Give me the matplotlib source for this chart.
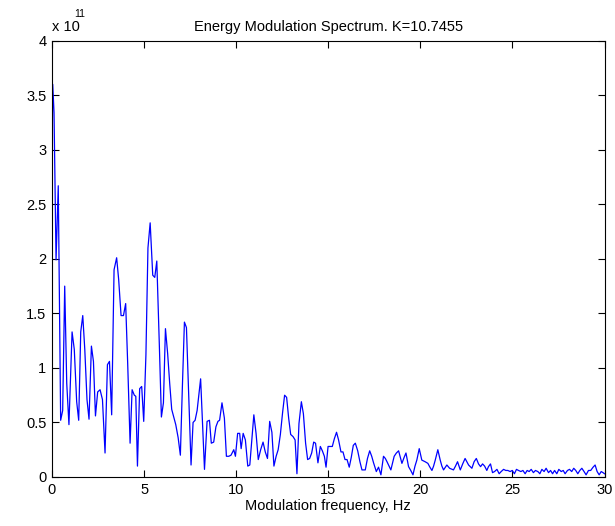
import matplotlib
matplotlib.use("Agg")
import matplotlib.pyplot as plt

# traced spectrum vertices (frequency in Hz, energy in units of 1e11)
freq_hz = [
    0.00, 0.04, 0.11, 0.22, 0.34, 0.47, 0.58, 0.69, 0.80, 0.92, 1.09, 1.21,
    1.34, 1.45, 1.56, 1.67, 1.78, 1.90, 2.01, 2.14, 2.25, 2.36, 2.48, 2.61,
    2.74, 2.88, 3.01, 3.12, 3.24, 3.37, 3.51, 3.62, 3.75, 3.88, 4.00, 4.11,
    4.24, 4.35, 4.47, 4.55, 4.64, 4.76, 4.87, 4.98,
    5.10, 5.21, 5.33, 5.47, 5.58, 5.69, 5.83, 5.94, 6.05, 6.16, 6.28, 6.39,
    6.50, 6.61, 6.72, 6.85, 6.97, 7.08, 7.19, 7.30, 7.42, 7.55, 7.66, 7.77,
    7.88, 7.97, 8.07,
    8.28, 8.42, 8.55, 8.65, 8.78, 8.90, 9.01, 9.10, 9.23, 9.36, 9.47, 9.60,
    9.72, 9.87, 9.96, 10.08, 10.19, 10.27, 10.38, 10.50, 10.63, 10.74, 10.85,
    10.96, 11.08, 11.20, 11.33, 11.46, 11.58, 11.70, 11.82, 11.94, 12.05,
    12.17, 12.28, 12.40,
    12.52, 12.63, 12.74, 12.85, 12.96, 13.09, 13.20, 13.30, 13.41, 13.54,
    13.65, 13.77, 13.88, 13.99, 14.10, 14.21, 14.31, 14.44, 14.57, 14.68,
    14.79, 14.88, 14.99, 15.11, 15.22, 15.33, 15.45, 15.56, 15.69, 15.80,
    15.91,
    16.02, 16.14, 16.25, 16.36, 16.47, 16.60, 16.72, 16.83, 17.01, 17.13,
    17.25, 17.36, 17.46, 17.61, 17.73, 17.86, 18.00, 18.10, 18.19, 18.40,
    18.58, 18.70, 18.82, 18.93, 19.00, 19.12, 19.22, 19.36, 19.48, 19.60,
    19.71, 19.81, 19.94, 20.08, 20.26, 20.41, 20.52, 20.63, 20.72, 20.81,
    20.95, 21.08, 21.17, 21.26, 21.44, 21.59, 21.80, 21.91, 22.02, 22.17,
    22.30, 22.43, 22.62, 22.80, 22.92, 23.04, 23.16, 23.27,
    23.38, 23.49, 23.61, 23.70, 23.81, 23.92, 24.03, 24.16, 24.28, 24.39,
    24.52, 24.64, 24.75, 24.88, 24.99, 25.11, 25.22, 25.33, 25.46, 25.57,
    25.69, 25.80, 25.91, 26.02, 26.14, 26.25, 26.38, 26.49, 26.60, 26.72,
    26.83, 26.96, 27.07, 27.18, 27.29, 27.41, 27.52, 27.65, 27.76, 27.86,
    27.99, 28.10, 28.22, 28.33, 28.44, 28.55, 28.66, 28.77, 28.89, 29.00,
    29.13, 29.25, 29.38, 29.49, 29.60, 29.71, 29.82, 29.92, 30.00,
]
energy_e11 = [
    2.90, 3.60, 3.34, 1.99, 2.67, 0.52, 0.61, 1.75, 0.86, 0.48, 1.33, 1.17,
    0.69, 0.52, 1.33, 1.48, 1.17, 0.71, 0.53, 1.20, 1.06, 0.56, 0.78, 0.80,
    0.71, 0.22, 1.03, 1.06, 0.57, 1.90, 2.01, 1.81, 1.48, 1.48, 1.59, 1.04,
    0.31, 0.80, 0.75, 0.74, 0.10, 0.81, 0.83, 0.51,
    1.12, 2.10, 2.33, 1.85, 1.83, 1.98, 1.20, 0.55, 0.68, 1.36, 1.13, 0.86,
    0.62, 0.55, 0.48, 0.36, 0.20, 0.83, 1.42, 1.37, 0.77, 0.11, 0.50, 0.52,
    0.61, 0.75, 0.90,
    0.07, 0.51, 0.52, 0.31, 0.32, 0.46, 0.51, 0.52, 0.68, 0.54, 0.19, 0.19,
    0.20, 0.25, 0.19, 0.40, 0.40, 0.26, 0.40, 0.34, 0.10, 0.11, 0.34,
    0.57, 0.40, 0.16, 0.25, 0.32, 0.23, 0.17, 0.51, 0.41, 0.10,
    0.19, 0.25, 0.39,
    0.59, 0.75, 0.73, 0.54, 0.39, 0.37, 0.34, 0.03, 0.49, 0.69,
    0.58, 0.31, 0.16, 0.17, 0.22, 0.32, 0.31, 0.13, 0.28, 0.24,
    0.19, 0.09, 0.28, 0.28, 0.28, 0.35, 0.41, 0.34, 0.23, 0.23,
    0.16,
    0.16, 0.09, 0.18, 0.29, 0.31, 0.24, 0.14, 0.065, 0.065, 0.17,
    0.24, 0.19, 0.13, 0.05, 0.09, 0.02, 0.19, 0.17, 0.14, 0.065,
    0.19, 0.22, 0.24, 0.17, 0.125, 0.18, 0.22, 0.095, 0.06, 0.02,
    0.10, 0.155, 0.26, 0.155, 0.14, 0.125, 0.09, 0.06, 0.10, 0.155,
    0.25, 0.155, 0.10, 0.065, 0.11, 0.08, 0.065, 0.10, 0.14, 0.065,
    0.12, 0.17, 0.11, 0.08, 0.14, 0.17, 0.12, 0.095,
    0.12, 0.10, 0.06, 0.095, 0.12, 0.04, 0.05, 0.07, 0.03, 0.05,
    0.07, 0.06, 0.06, 0.05, 0.06, 0.03, 0.07, 0.06, 0.05, 0.06,
    0.03, 0.06, 0.05, 0.07, 0.04, 0.06, 0.05, 0.03, 0.07, 0.05,
    0.08, 0.04, 0.06, 0.03, 0.06, 0.03, 0.07, 0.05, 0.06, 0.03,
    0.06, 0.07, 0.05, 0.08, 0.06, 0.03, 0.06, 0.08, 0.05, 0.02,
    0.06, 0.06, 0.09, 0.11, 0.05, 0.02, 0.05, 0.04, 0.03,
]

x_ticks = [0, 5, 10, 15, 20, 25, 30]
y_ticks = [0, 0.5, 1, 1.5, 2, 2.5, 3, 3.5, 4]
y_labels = ["0", "0.5", "1", "1.5", "2", "2.5", "3", "3.5", "4"]

plt.rcParams["font.family"] = ["Liberation Sans", "DejaVu Sans"]

W, H = 615, 526
fig = plt.figure(figsize=(W / 100, H / 100), dpi=100)
ax = fig.add_axes([52 / W, (H - 477) / H, (604.5 - 52) / W, (477 - 40.7) / H])

ax.plot(freq_hz, energy_e11, color="#0000ff", lw=0.9)

ax.set_xlim(0, 30)
ax.set_ylim(0, 4)
ax.set_xticks(x_ticks)
ax.set_yticks(y_ticks)
ax.set_yticklabels(y_labels)
ax.tick_params(direction="in", length=5, width=0.8, labelsize=10.5, pad=4,
               top=True, right=True, colors="black")
for s in ax.spines.values():
    s.set_linewidth(0.8)

ax.set_title("Energy Modulation Spectrum. K=10.7455", fontsize=10.5, pad=7)
ax.set_xlabel("Modulation frequency, Hz", fontsize=10.5, labelpad=2)

# MATLAB-style exponent label
fig.text(52 / W, 1 - 31 / H, "x 10", fontsize=10.5, ha="left", va="baseline")
fig.text(74 / W, 1 - 17 / H, "11", fontsize=7.5, ha="left", va="baseline")

fig.savefig("out.png", dpi=100)
